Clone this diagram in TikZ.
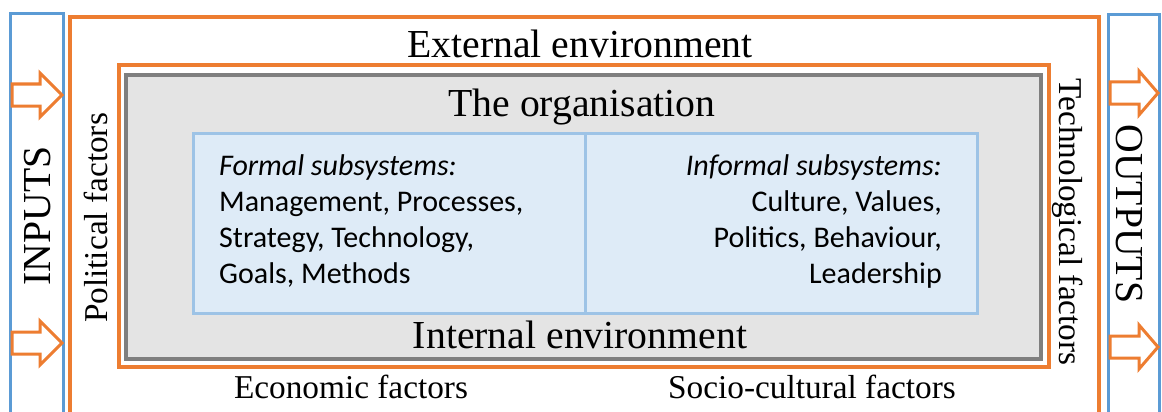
\documentclass[tikz,border=0pt]{standalone}
\usepackage{fontspec}
\setmainfont{Liberation Serif}
\newfontfamily\calibri{Carlito}
\definecolor{orng}{HTML}{ED7D31}
\definecolor{blu}{HTML}{5B9BD5}
\definecolor{lblu}{HTML}{9DC3E6}
\definecolor{lfill}{HTML}{DEEBF7}
\definecolor{gry}{HTML}{7F7F7F}
\definecolor{gfill}{HTML}{E4E4E4}
\tikzset{
  big/.style={font=\fontsize{39.7}{44}\selectfont, inner sep=0pt},
  factor/.style={font=\fontsize{33.3}{38}\selectfont, inner sep=0pt},
  sub/.style={font=\calibri\fontsize{30}{36}\selectfont, inner sep=0pt},
  blockarrow/.style={draw=orng, line width=3pt, fill=white, line join=miter},
}
\begin{document}
\begin{tikzpicture}[x=1pt,y=-1pt]
      \useasboundingbox (0,0) rectangle (1162,412);
      \draw[blu, line width=3pt] (10,420) -- (10,14) -- (63,14) -- (63,420);
      \draw[blu, line width=3pt] (1108,420) -- (1108,15) -- (1159,15) -- (1159,420);
      \draw[orng, line width=3.5pt] (70,420) -- (70,17) -- (1099,17) -- (1099,420);
      \draw[orng, line width=3.5pt, fill=white] (119,65) rectangle (1049,367);
      \draw[gry, line width=4pt, fill=gfill] (126,75) rectangle (1041,359);
      \draw[lblu, line width=3pt, fill=lfill] (193,133) rectangle (977,313);
      \draw[lblu, line width=3pt] (585,133) -- (585,313);
      \foreach \y in {95,343}
        \draw[blockarrow] (12,\y-11) -- (40,\y-11) -- (40,\y-22) -- (62,\y)
          -- (40,\y+22) -- (40,\y+11) -- (12,\y+11) -- cycle;
      \foreach \y in {93,347}
        \draw[blockarrow] (1110,\y-11) -- (1139,\y-11) -- (1139,\y-22) -- (1158,\y)
          -- (1139,\y+22) -- (1139,\y+11) -- (1110,\y+11) -- cycle;
      \node[big, anchor=base] (ext) at (580,58) {External environment};
      \node[big, anchor=base] (org) at (582,117) {The organisation};
      \node[big, anchor=base] (int) at (580,348) {Internal environment};
      \node[factor, anchor=base] (eco) at (351,398) {Economic factors};
      \node[factor, anchor=base] (soc) at (812,398) {Socio-cultural factors};
      \node[factor, rotate=90] (pol) at (96,218) {Political factors};
      \node[factor, rotate=-90] (tech) at (1068,222) {Technological factors};
      \node[big, rotate=90] (in) at (38,216) {INPUTS};
      \node[big, rotate=-90] (out) at (1129,214) {OUTPUTS};
      \node[sub, anchor=base west, align=left] (formal) at (219,283)
        {\textit{Formal subsystems:}\\Management, Processes,\\Strategy, Technology,\\Goals, Methods};
      \node[sub, anchor=base east, align=right] (informal) at (942,283)
        {\textit{Informal subsystems:}\\Culture, Values,\\Politics, Behaviour,\\Leadership};
    \end{tikzpicture}
\end{document}
